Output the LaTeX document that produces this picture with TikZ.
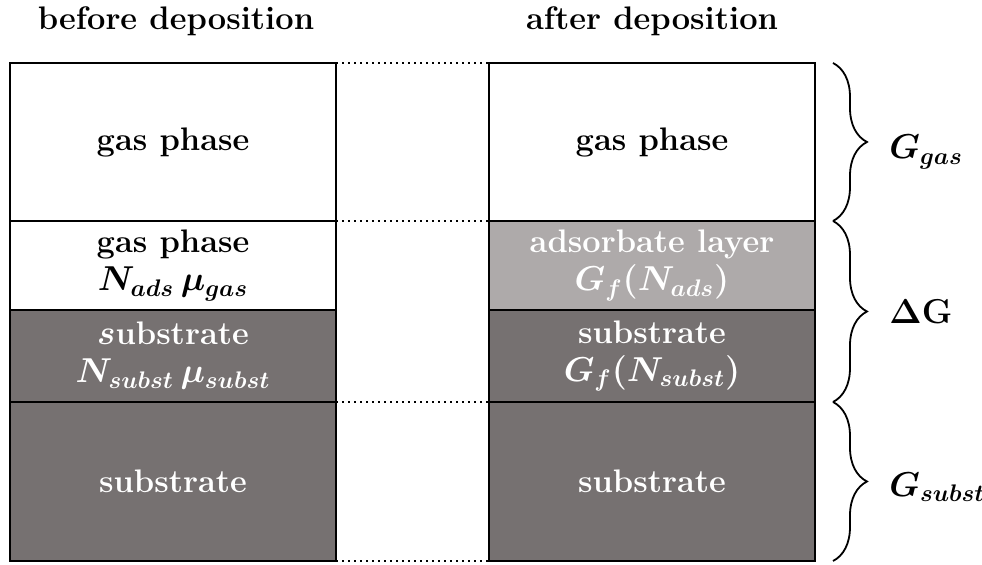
\documentclass[tikz,border=0pt]{standalone}
\usepackage{amsmath}
\usetikzlibrary{decorations.pathreplacing}
\DeclareMathSizes{16.3}{16.3}{12}{9}
\definecolor{darkgr}{HTML}{767171}
\definecolor{lightgr}{HTML}{AEAAAA}
\newcommand{\bmth}[1]{{\boldmath$#1$}}
\begin{document}
\begin{tikzpicture}[x=0.5pt,y=-0.5pt,
  every node/.style={font=\fontsize{16.3}{19}\selectfont\bfseries},
  cell/.style={draw=black, line width=1pt, inner sep=0pt, outer sep=0pt,
    minimum width=163pt, align=center},
  whitecell/.style={cell, fill=white, text=black},
  darkcell/.style={cell, fill=darkgr, text=white},
  lightcell/.style={cell, fill=lightgr, text=white},
  link/.style={dotted, line width=1pt},
  bracestyle/.style={decorate, decoration={brace, amplitude=17pt}, line width=0.9pt},
  labstyle/.style={anchor=west, inner sep=0pt}]
\useasboundingbox (0,0) rectangle (982,565);
% headings
\node (h1) at (176,21) {before deposition};
\node (h2) at (652,21) {after deposition};
% left column
\node[whitecell, minimum height=79pt] (l1) at (173,142) {gas phase};
\node[whitecell, minimum height=44.5pt] (l2) at (173,265.5) {gas phase\\\bmth{N_{ads}\,\mu_{gas}}};
\node[darkcell, minimum height=46pt] (l3) at (173,356) {\bmth{s}ubstrate\\\bmth{N_{subst}\,\mu_{subst}}};
\node[darkcell, minimum height=79.5pt] (l4) at (173,481.5) {substrate};
% right column
\node[whitecell, minimum height=79pt] (r1) at (652,142) {gas phase};
\node[lightcell, minimum height=44.5pt] (r2) at (652,265.5) {adsorbate layer\\\bmth{G_f(N_{ads})}};
\node[darkcell, minimum height=46pt] (r3) at (652,356) {substrate\\\bmth{G_f(N_{subst})}};
\node[darkcell, minimum height=79.5pt] (r4) at (652,481.5) {substrate};
% dotted links
\draw[link] (l1.north east) -- (r1.north west);
\draw[link] (l1.south east) -- (r1.south west);
\draw[link] (l3.south east) -- (r3.south west);
\draw[link] (l4.south east) -- (r4.south west);
% braces
\coordinate (b1) at ([xshift=9pt]r1.north east);
\coordinate (b2) at ([xshift=9pt]r1.south east);
\coordinate (b3) at ([xshift=9pt]r3.south east);
\coordinate (b4) at ([xshift=9pt]r4.south east);
\draw[bracestyle] (b1) -- (b2);
\draw[bracestyle] (b2) -- (b3);
\draw[bracestyle] (b3) -- (b4);
% labels
\node[labstyle] (g1) at (889,152) {\bmth{G_{gas}}};
\node[labstyle] (g2) at (889,312) {\bmth{\Delta\mathbf{G}}};
\node[labstyle] (g3) at (889,487) {\bmth{G_{subst}}};
\end{tikzpicture}
\end{document}
